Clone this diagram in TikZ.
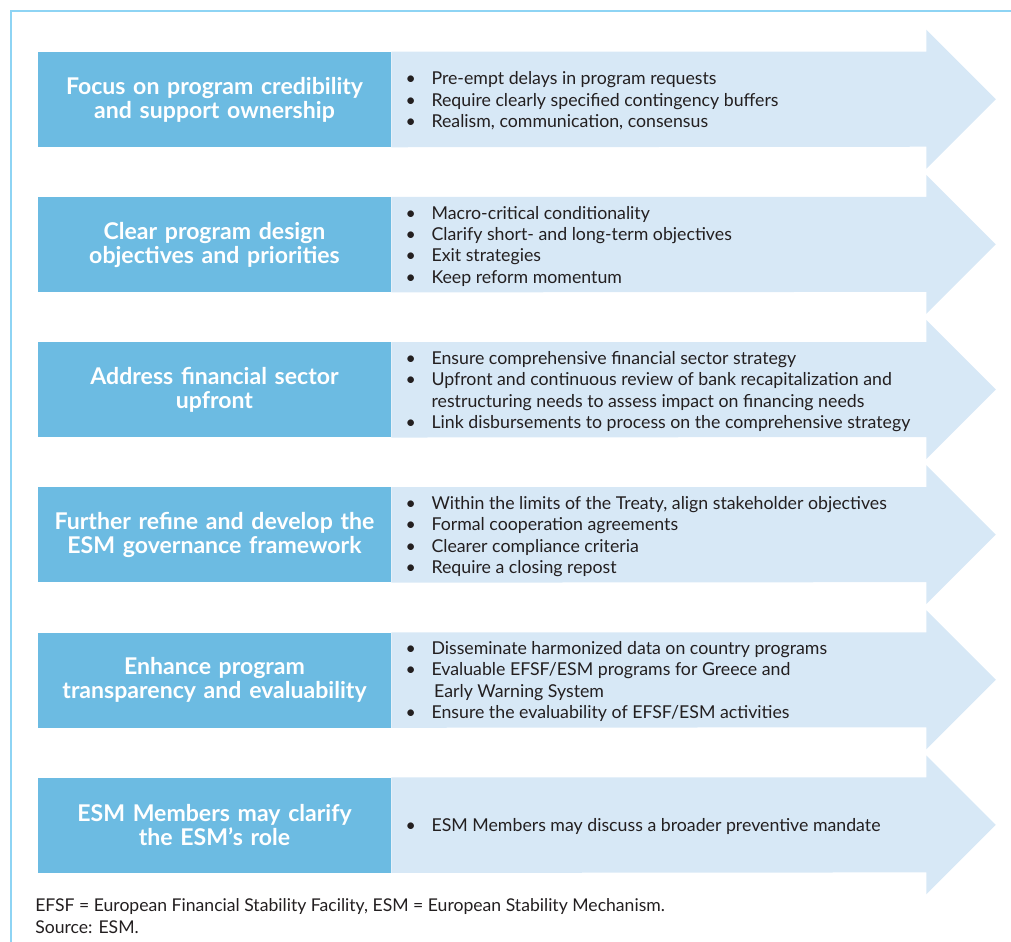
\documentclass[tikz,border=0pt]{standalone}
\usepackage{fontspec}
\setmainfont{Lato}
\usetikzlibrary{positioning}
\definecolor{esmdark}{HTML}{6CBBE2}
\definecolor{esmlight}{HTML}{D7E8F6}
\definecolor{esmframe}{HTML}{8ED4F4}
\definecolor{esmtext}{HTML}{231F20}
\tikzset{
  titlebox/.style={fill=esmdark, text=white, font=\fontsize{17.3}{18}\selectfont\bfseries,
    minimum width=264.75pt, minimum height=71.25pt, text width=262pt, align=center, inner sep=0pt},
  bullets/.style={anchor=west, align=left, inner sep=0pt, text=esmtext, yshift=-1.2pt,
    font=\fontsize{13.3}{16.1}\selectfont},
  notes/.style={anchor=west, align=left, inner sep=0pt, text=esmtext,
    font=\fontsize{13.2}{16.5}\selectfont},
  arrowfill/.style={fill=esmlight},
}
\newcommand\itm{\makebox[19.5pt][l]{\textbullet}}
\begin{document}
\begin{tikzpicture}[x=0.75pt, y=-0.75pt]
      \useasboundingbox (0,0) rectangle (1011,942);
      \draw[esmframe, line width=1.2pt] (10.7,942) -- (10.7,11.3) -- (1011,11.3);

      \node [titlebox] (t1) at (214.5,99.5) {Focus on program credibility\\and support ownership};
      \node [titlebox, below=37.2pt of t1] (t2) {Clear program design\\objectives and priorities};
      \node [titlebox, below=37.2pt of t2] (t3) {Address financial sector\\upfront};
      \node [titlebox, below=37.2pt of t3] (t4) {Further refine and develop the\\ESM governance framework};
      \node [titlebox, below=37.2pt of t4] (t5) {Enhance program\\transparency and evaluability};
      \node [titlebox, below=37.2pt of t5] (t6) {ESM Members may clarify\\the ESM’s role};

      \foreach \i in {1,...,6} {
        \fill [arrowfill] (t\i.north east) -- ++(535,0) -- ++(0,-22) -- ++(69.5,69.5)
          -- ++(-69.5,69.5) -- ++(0,-22) -- (t\i.south east) -- cycle;
      }

      \node [bullets, right=10.5pt of t1] (b1) {\itm Pre-empt delays in program requests\\
        \itm Require clearly specified contingency buffers\\
        \itm Realism, communication, consensus};
      \node [bullets, right=10.5pt of t2] (b2) {\itm Macro-critical conditionality\\
        \itm Clarify short- and long-term objectives\\
        \itm Exit strategies\\
        \itm Keep reform momentum};
      \node [bullets, right=10.5pt of t3] (b3) {\itm Ensure comprehensive financial sector strategy\\
        \itm Upfront and continuous review of bank recapitalization and\\
        \hspace*{19.5pt}restructuring needs to assess impact on financing needs\\
        \itm Link disbursements to process on the comprehensive strategy};
      \node [bullets, right=10.5pt of t4] (b4) {\itm Within the limits of the Treaty, align stakeholder objectives\\
        \itm Formal cooperation agreements\\
        \itm Clearer compliance criteria\\
        \itm Require a closing repost};
      \node [bullets, right=10.5pt of t5] (b5) {\itm Disseminate harmonized data on country programs\\
        \itm Evaluable EFSF/ESM programs for Greece and\\
        \hspace*{21.5pt}Early Warning System\\
        \itm Ensure the evaluability of EFSF/ESM activities};
      \node [bullets, right=10.5pt of t6] (b6) {\itm ESM Members may discuss a broader preventive mandate};

      \node [notes] (n1) at (35,916.5) {EFSF = European Financial Stability Facility, ESM = European Stability Mechanism.\\
        Source: ESM.};
\end{tikzpicture}
\end{document}
